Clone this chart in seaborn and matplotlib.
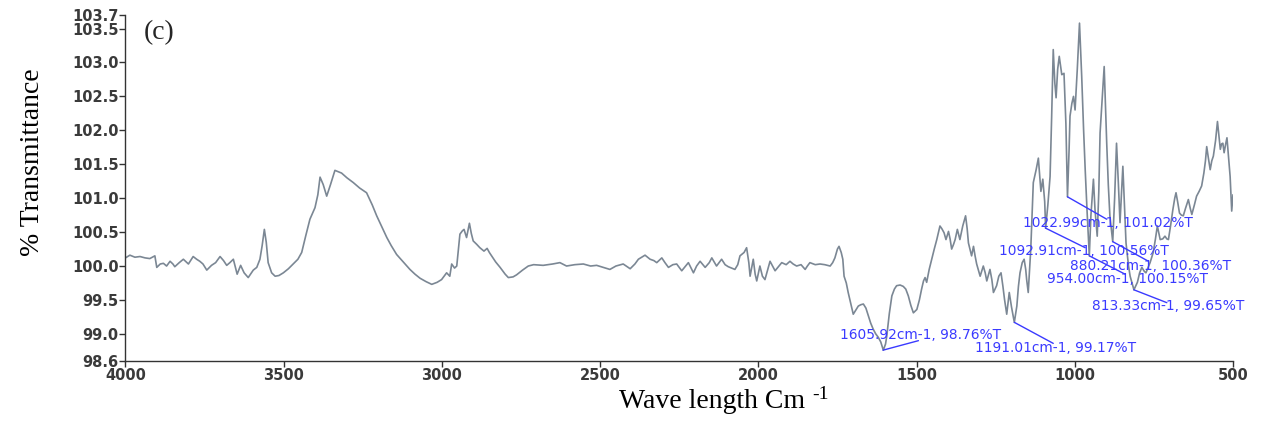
import numpy as np
import pandas as pd
import matplotlib
matplotlib.use("Agg")
import matplotlib.pyplot as plt
import seaborn as sns

# ---- data ----
wavenumber = [
    4000, 3986, 3970, 3954, 3938, 3923, 3907, 3901, 3890, 3880, 3870, 3859, 3850, 3844, 3830,
    3817, 3801, 3786, 3775, 3765, 3755, 3743, 3728, 3715, 3701, 3690, 3680, 3670, 3659, 3647,
    3636, 3625, 3612, 3596, 3585, 3575, 3568, 3561, 3555, 3549, 3538, 3527, 3515, 3501, 3485,
    3470, 3455, 3443, 3430, 3417, 3401, 3392, 3385, 3375, 3364, 3352, 3338, 3317, 3300, 3280,
    3260, 3238, 3220, 3206, 3190, 3174, 3160, 3143, 3120, 3101, 3085, 3069, 3050, 3032, 3015,
    3001, 2985, 2975, 2969, 2960, 2953, 2943, 2935, 2930, 2922, 2913, 2907, 2901, 2890, 2880,
    2867, 2857, 2850, 2843, 2830, 2816, 2800, 2790, 2775, 2764, 2745, 2727, 2710, 2680, 2650,
    2627, 2606, 2580, 2553, 2530, 2511, 2490, 2469, 2450, 2427, 2405, 2390, 2379, 2358, 2342,
    2330, 2321, 2305, 2295, 2284, 2270, 2258, 2242, 2230, 2221, 2205, 2195, 2184, 2168, 2155,
    2147, 2132, 2116, 2105, 2095, 2074, 2065, 2058, 2045, 2037, 2030, 2026, 2020, 2016, 2010,
    2005, 1995, 1987, 1979, 1970, 1963, 1955, 1947, 1935, 1926, 1912, 1900, 1890, 1879, 1865,
    1852, 1845, 1837, 1820, 1805, 1790, 1773, 1765, 1758, 1750, 1745, 1738, 1733, 1729, 1722,
    1716, 1708, 1700, 1692, 1684, 1676, 1668, 1660, 1652, 1645, 1637, 1629, 1621, 1613, 1605,
    1598, 1594, 1586, 1578, 1570, 1563, 1552, 1542, 1534, 1526, 1518, 1510, 1499, 1491, 1484,
    1478, 1473, 1468, 1460, 1452, 1444, 1436, 1426, 1420, 1413, 1407, 1399, 1394, 1389, 1383,
    1378, 1371, 1363, 1354, 1345, 1340, 1336, 1326, 1320, 1315, 1310, 1299, 1289, 1283, 1278,
    1268, 1262, 1257, 1247, 1240, 1233, 1227, 1222, 1215, 1207, 1200, 1191, 1183, 1178, 1173,
    1166, 1160, 1155, 1152, 1147, 1139, 1131, 1122, 1115, 1107, 1101, 1095, 1092, 1085, 1078,
    1073, 1068, 1063, 1059, 1054, 1049, 1041, 1034, 1028, 1023, 1018, 1015, 1009, 1004, 999,
    992, 985, 978, 972, 967, 961, 954, 949, 941, 936, 929, 924, 920, 913, 907,
    899, 894, 889, 880, 874, 868, 862, 857, 848, 843, 838, 830, 825, 813, 806,
    802, 795, 788, 780, 775, 768, 762, 752, 745, 739, 735, 730, 722, 715, 709,
    704, 697, 690, 684, 680, 675, 669, 663, 657, 650, 641, 635, 630, 622, 615,
    607, 599, 592, 587, 583, 578, 572, 567, 562, 555, 549, 544, 540, 536, 532,
    528, 523, 519, 514, 509, 504, 500,
]
transmittance = [
    100.12, 100.16, 100.13, 100.14, 100.12, 100.11, 100.15, 99.98, 100.03, 100.04, 100.00, 100.07, 100.03, 99.99, 100.05,
    100.10, 100.03, 100.14, 100.10, 100.07, 100.03, 99.94, 100.01, 100.05, 100.14, 100.08, 100.01, 100.05, 100.10, 99.88,
    100.01, 99.90, 99.83, 99.94, 99.98, 100.10, 100.30, 100.54, 100.35, 100.05, 99.90, 99.85, 99.86, 99.90, 99.96,
    100.03, 100.10, 100.20, 100.45, 100.69, 100.86, 101.05, 101.31, 101.20, 101.03, 101.20, 101.41, 101.37, 101.30, 101.23,
    101.15, 101.08, 100.90, 100.74, 100.58, 100.42, 100.30, 100.17, 100.05, 99.95, 99.88, 99.82, 99.77, 99.73, 99.76,
    99.80, 99.90, 99.85, 100.03, 99.97, 100.00, 100.47, 100.52, 100.54, 100.42, 100.63, 100.48, 100.37, 100.32, 100.27,
    100.22, 100.26, 100.20, 100.15, 100.06, 99.98, 99.88, 99.83, 99.84, 99.87, 99.94, 100.00, 100.02, 100.01, 100.03,
    100.05, 100.00, 100.02, 100.03, 100.00, 100.01, 99.98, 99.95, 100.00, 100.03, 99.96, 100.03, 100.10, 100.16, 100.10,
    100.08, 100.05, 100.12, 100.05, 99.98, 100.02, 100.03, 99.93, 100.00, 100.05, 99.90, 100.00, 100.07, 99.98, 100.05,
    100.12, 100.00, 100.10, 100.02, 99.99, 99.95, 100.02, 100.15, 100.20, 100.27, 100.05, 99.85, 100.00, 100.10, 99.88,
    99.78, 100.00, 99.85, 99.80, 99.95, 100.07, 100.00, 99.93, 100.00, 100.05, 100.02, 100.07, 100.03, 100.00, 100.02,
    99.95, 100.00, 100.05, 100.02, 100.03, 100.02, 100.00, 100.05, 100.12, 100.25, 100.29, 100.20, 100.10, 99.85, 99.75,
    99.61, 99.45, 99.29, 99.35, 99.41, 99.43, 99.44, 99.38, 99.26, 99.16, 99.07, 99.00, 98.95, 98.88, 98.76,
    98.85, 98.97, 99.30, 99.56, 99.66, 99.71, 99.72, 99.70, 99.66, 99.56, 99.42, 99.31, 99.36, 99.50, 99.66,
    99.78, 99.83, 99.76, 99.95, 100.10, 100.25, 100.39, 100.59, 100.55, 100.49, 100.39, 100.51, 100.40, 100.25, 100.32,
    100.39, 100.54, 100.39, 100.59, 100.74, 100.55, 100.34, 100.15, 100.29, 100.15, 100.03, 99.85, 100.00, 99.90, 99.78,
    99.95, 99.80, 99.61, 99.71, 99.85, 99.90, 99.70, 99.51, 99.29, 99.61, 99.40, 99.17, 99.41, 99.70, 99.90,
    100.05, 100.10, 99.95, 99.80, 99.61, 100.25, 101.23, 101.42, 101.59, 101.10, 101.28, 100.95, 100.56, 100.90, 101.32,
    102.20, 103.19, 102.70, 102.48, 102.90, 103.09, 102.82, 102.84, 102.10, 101.02, 101.70, 102.21, 102.40, 102.50, 102.30,
    102.90, 103.58, 102.79, 102.00, 101.42, 100.80, 100.15, 100.74, 101.28, 100.83, 100.44, 101.10, 101.96, 102.50, 102.94,
    101.81, 101.20, 100.74, 100.36, 101.00, 101.81, 101.20, 100.64, 101.47, 100.90, 100.34, 100.00, 99.85, 99.65, 99.72,
    99.76, 99.90, 99.98, 99.92, 99.90, 99.98, 100.05, 100.20, 100.40, 100.59, 100.50, 100.39, 100.40, 100.44, 100.40,
    100.39, 100.60, 100.83, 101.00, 101.08, 100.95, 100.78, 100.75, 100.74, 100.85, 100.98, 100.85, 100.76, 100.90, 101.03,
    101.10, 101.18, 101.37, 101.55, 101.76, 101.60, 101.42, 101.55, 101.62, 101.85, 102.13, 101.90, 101.72, 101.80, 101.81,
    101.67, 101.80, 101.89, 101.60, 101.32, 100.81, 101.05,
]

# labelled peaks
peak_wn = [1605.92, 1191.01, 1022.99, 1092.91, 880.21, 954.00, 813.33]
peak_T = [98.76, 99.17, 101.02, 100.56, 100.36, 100.15, 99.65]

y_ticks = [98.6, 99.0, 99.5, 100.0, 100.5, 101.0, 101.5, 102.0, 102.5, 103.0, 103.5, 103.7]
x_ticks = [4000, 3500, 3000, 2500, 2000, 1500, 1000, 500]

# layout: end of leader line and text centre (data coords) for each label
leader_end = [(1494, 98.90), (1068, 98.86), (899, 100.69), (967, 100.27),
              (767, 100.07), (841, 99.88), (709, 99.46)]
text_pos = [(1486, 98.98), (1062, 98.785), (894, 100.63), (970, 100.22),
            (760, 100.00), (833, 99.815), (704, 99.41)]

df = pd.DataFrame({"wn": wavenumber, "T": transmittance})

sns.set_style("ticks")
plt.rcParams["font.family"] = ["DejaVu Sans"]

fig = plt.figure(figsize=(12.62, 4.22), dpi=100)
ax = fig.add_axes([0.0994, 0.1445, 0.8776, 0.82])

sns.lineplot(data=df, x="wn", y="T", ax=ax, color="#7b8794", linewidth=1.2,
             estimator=None, sort=False)

ax.set_xlim(4000, 500)
ax.set_ylim(98.6, 103.7)
ax.set_xticks(x_ticks)
ax.set_yticks(y_ticks)
ax.set_xticklabels([str(v) for v in x_ticks])
ax.set_yticklabels([f"{v:.1f}" for v in y_ticks])
for lab in ax.get_xticklabels() + ax.get_yticklabels():
    lab.set_fontweight("bold")
    lab.set_fontsize(10.5)
    lab.set_color("#3a3a3a")
ax.tick_params(axis="both", direction="out", length=4, width=1, color="#333333", pad=1)

for s in ["top", "right"]:
    ax.spines[s].set_visible(False)
for s in ["left", "bottom"]:
    ax.spines[s].set_color("#333333")
    ax.spines[s].set_linewidth(1.0)

ax.set_ylabel("% Transmittance", family="Liberation Serif", fontsize=20, color="black")
ax.yaxis.set_label_coords(-0.073, 0.575)
ax.set_xlabel("Wave length Cm", family="Liberation Serif", fontsize=20, color="black")
ax.xaxis.set_label_coords(0.530, -0.082)

fig.canvas.draw()
bb = ax.xaxis.label.get_window_extent(fig.canvas.get_renderer())
fig.text((bb.x1 + 7) / fig.bbox.width, (bb.y1 + 3) / fig.bbox.height, "-1",
         family="Liberation Serif", fontsize=14, ha="left", va="top", color="black")

ax.text(0.030, 0.948, "(c)", transform=ax.transAxes, family="Liberation Serif",
        fontsize=20, ha="center", va="center")

blue = "#3a3aff"
for wn, t, (lx, ly), (tx, ty) in zip(peak_wn, peak_T, leader_end, text_pos):
    ax.plot([wn, lx], [t, ly], color=blue, linewidth=1.0)
    ax.text(tx, ty, f"{wn:.2f}cm-1, {t:.2f}%T", color=blue, fontsize=9.9,
            ha="center", va="center", family="DejaVu Sans")

fig.savefig("out.png", dpi=100)
